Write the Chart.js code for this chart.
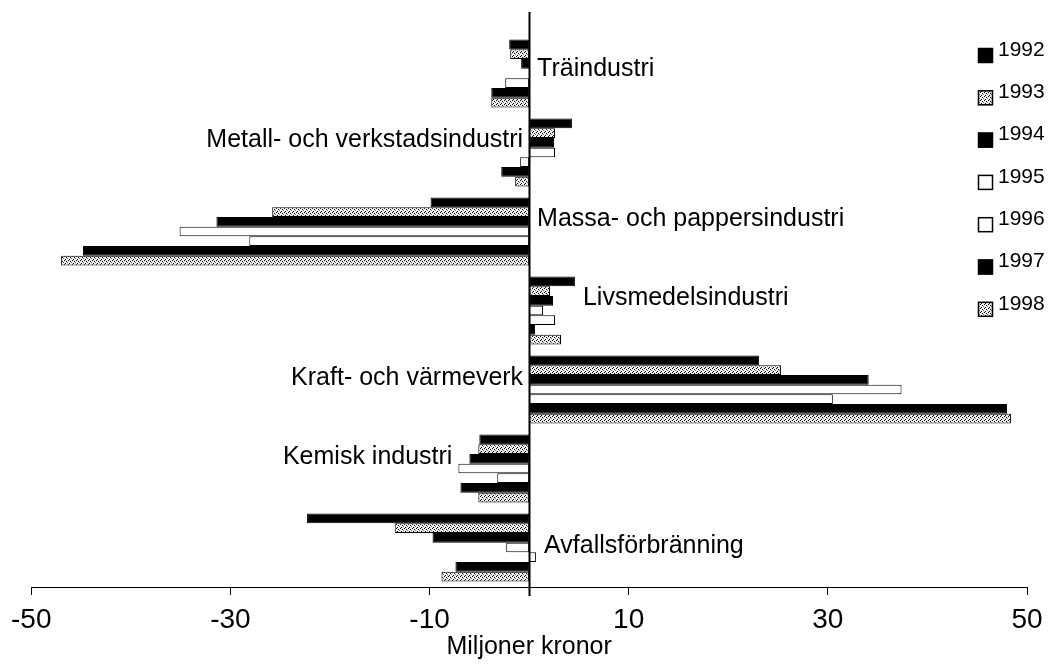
<!DOCTYPE html>
<html>
<head>
<meta charset="utf-8">
<script src="https://cdn.jsdelivr.net/npm/chart.js@4.4.0/dist/chart.umd.min.js"></script>
<style>
  html, body { margin: 0; padding: 0; background: #fff; }
  #wrap { width: 1060px; height: 669px; }
</style>
</head>
<body>
<div id="wrap"><canvas id="chart" width="1060" height="669"></canvas></div>
<script>
// Branches, top to bottom
const categories = [
  "Träindustri",
  "Metall- och verkstadsindustri",
  "Massa- och pappersindustri",
  "Livsmedelsindustri",
  "Kraft- och värmeverk",
  "Kemisk industri",
  "Avfallsförbränning",
];

const years = ["1992", "1993", "1994", "1995", "1996", "1997", "1998"];

// Miljoner kronor, one value per branch
const v1992 = [-2.0, 4.3, -9.9, 4.6, 23.1, -5.0, -22.3];
const v1993 = [-1.9, 2.6, -25.8, 2.1, 25.3, -5.1, -13.5];
const v1994 = [-0.8, 2.5, -31.4, 2.4, 34.1, -6.0, -9.7];
const v1995 = [0.0, 2.6, -35.1, 1.4, 37.4, -7.1, -2.3];
const v1996 = [-2.4, -0.9, -28.1, 2.6, 30.5, -3.2, 0.7];
const v1997 = [-3.8, -2.8, -44.8, 0.6, 48.0, -6.9, -7.4];
const v1998 = [-3.8, -1.4, -47.0, 3.2, 48.4, -5.1, -8.8];

const xTicks = [-50, -30, -10, 10, 30, 50];
const axisTitle = "Miljoner kronor";

const FONT = "'Liberation Sans', Arial, sans-serif";

// stippled grey fill used for 1993 and 1998
function speckle() {
  const c = document.createElement("canvas");
  c.width = 4;
  c.height = 4;
  const g = c.getContext("2d");
  g.fillStyle = "#ececec";
  g.fillRect(0, 0, 4, 4);
  g.fillStyle = "#000";
  [[0, 0], [2, 1], [1, 3]].forEach(([x, y]) => g.fillRect(x, y, 1, 1));
  g.fillStyle = "#777";
  g.fillRect(3, 2, 1, 1);
  return g.createPattern(c, "repeat");
}
const pat = speckle();

const series = [v1992, v1993, v1994, v1995, v1996, v1997, v1998];
const fills = ["#000", pat, "#000", "#fff", "#fff", "#000", pat];

// zero line through the plot
const zeroLine = {
  id: "zeroLine",
  afterDatasetsDraw(chart) {
    const { ctx, scales: { x }, chartArea } = chart;
    const px = Math.round(x.getPixelForValue(0)) + 0.5;
    ctx.save();
    ctx.strokeStyle = "#000";
    ctx.lineWidth = 2;
    ctx.beginPath();
    ctx.moveTo(px, 12);
    ctx.lineTo(px, chartArea.bottom + 9);
    ctx.stroke();
    ctx.restore();
  },
};

// branch names written next to their bar groups, clear of the bars they sit beside
const branchLabels = {
  id: "branchLabels",
  afterDatasetsDraw(chart, args, opts) {
    const { ctx, scales: { x, y } } = chart;
    ctx.save();
    ctx.font = opts.size + "px " + FONT;
    ctx.fillStyle = "#000";
    ctx.textBaseline = "middle";
    categories.forEach((name, i) => {
      const yc = y.getPixelForValue(i) + opts.lift[i];
      const near = [];
      chart.data.datasets.forEach((ds, d) => {
        const bar = chart.getDatasetMeta(d).data[i];
        if (Math.abs(bar.y - yc) < bar.height / 2 + 13) near.push(ds.data[i]);
      });
      if (opts.sides[i] === "right") {
        ctx.textAlign = "left";
        ctx.fillText(name, x.getPixelForValue(Math.max(0, ...near)) + 8, yc);
      } else {
        ctx.textAlign = "right";
        ctx.fillText(name, x.getPixelForValue(Math.min(0, ...near)) - 6, yc);
      }
    });
    ctx.restore();
  },
};

// legend stacked at the upper right, over the plot
const sideLegend = {
  id: "sideLegend",
  afterDraw(chart) {
    const ctx = chart.ctx;
    ctx.save();
    ctx.font = "21px " + FONT;
    ctx.textBaseline = "middle";
    ctx.textAlign = "left";
    chart.data.datasets.forEach((ds, i) => {
      const yc = 55 + i * 42.3;
      ctx.fillStyle = ds.backgroundColor;
      ctx.fillRect(978, yc - 7, 15, 15);
      ctx.strokeStyle = "#000";
      ctx.lineWidth = 1.5;
      ctx.strokeRect(978.5, yc - 6.5, 14, 14);
      ctx.fillStyle = "#000";
      ctx.fillText(ds.label, 998, yc - 5);
    });
    ctx.restore();
  },
};

new Chart(document.getElementById("chart"), {
  type: "bar",
  data: {
    labels: categories,
    datasets: years.map((yr, i) => ({
      label: yr,
      data: series[i],
      backgroundColor: fills[i],
      borderColor: "#000",
      borderWidth: 1,
      borderSkipped: false,
      categoryPercentage: 0.86,
      barPercentage: 1.0,
    })),
  },
  options: {
    responsive: false,
    animation: false,
    indexAxis: "y",
    layout: { padding: { top: 34, left: 29, right: 33, bottom: 6 } },
    plugins: {
      legend: { display: false },
      tooltip: { enabled: false },
      branchLabels: {
        size: 25,
        lift: [-4, -12, -12, -12, -11, -11, -1],
        sides: ["right", "left", "right", "right", "left", "left", "right"],
      },
    },
    scales: {
      y: { display: false },
      x: {
        min: -50,
        max: 50,
        afterBuildTicks: (s) => {
          s.ticks = xTicks.map((v) => ({ value: v }));
        },
        grid: { drawOnChartArea: false, tickLength: 8, color: "#000" },
        border: { color: "#000", width: 1 },
        ticks: {
          color: "#000",
          padding: 11,
          maxRotation: 0,
          font: { family: FONT, size: 28, lineHeight: 1 },
        },
        title: {
          display: true,
          text: axisTitle,
          color: "#000",
          padding: { top: -10, bottom: 3 },
          font: { family: FONT, size: 25, lineHeight: 1 },
        },
      },
    },
  },
  plugins: [zeroLine, branchLabels, sideLegend],
});
</script>
</body>
</html>
